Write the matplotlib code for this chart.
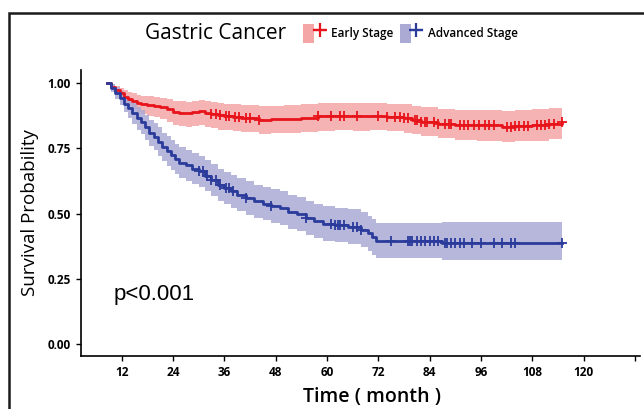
import numpy as np
import matplotlib
matplotlib.use("Agg")
import matplotlib.pyplot as plt
from matplotlib.patches import Patch, Rectangle
from matplotlib.lines import Line2D
from matplotlib.legend_handler import HandlerTuple

# early stage: step times, survival, confidence band
early_t = [8.5, 9.5, 10.5, 11.5, 12.5, 13.5, 14.5, 15.5, 16.5, 18, 19.5, 21, 22.5, 24, 25.5,
           27, 28.5, 30, 31.5, 33, 34.5, 36, 38, 40, 42, 44, 47, 50, 54, 58, 62, 66, 70,
           74, 78, 80, 82, 86, 90, 95, 101, 104, 108, 112, 115]
early_s = [1.0, 0.985, 0.972, 0.96, 0.948, 0.94, 0.932, 0.925, 0.92, 0.916, 0.914, 0.908, 0.9,
           0.89, 0.887, 0.884, 0.888, 0.892, 0.884, 0.88, 0.876, 0.874, 0.87, 0.868, 0.865,
           0.86, 0.862, 0.864, 0.868, 0.872, 0.873, 0.872, 0.875, 0.87, 0.866, 0.86, 0.852,
           0.845, 0.84, 0.838, 0.832, 0.836, 0.84, 0.845, 0.849]
early_lo = [1.0, 0.975, 0.955, 0.94, 0.925, 0.912, 0.9, 0.89, 0.882, 0.875, 0.87, 0.862, 0.852,
            0.84, 0.836, 0.832, 0.836, 0.84, 0.832, 0.828, 0.822, 0.82, 0.816, 0.814, 0.811,
            0.806, 0.808, 0.81, 0.814, 0.818, 0.819, 0.818, 0.82, 0.815, 0.81, 0.804, 0.796,
            0.788, 0.782, 0.78, 0.774, 0.778, 0.78, 0.784, 0.787]
early_hi = [1.0, 0.995, 0.99, 0.98, 0.972, 0.966, 0.96, 0.956, 0.952, 0.95, 0.948, 0.944, 0.938,
            0.932, 0.93, 0.928, 0.932, 0.935, 0.93, 0.926, 0.922, 0.92, 0.918, 0.917, 0.915,
            0.912, 0.914, 0.916, 0.919, 0.922, 0.923, 0.922, 0.925, 0.921, 0.918, 0.913, 0.907,
            0.902, 0.898, 0.897, 0.892, 0.896, 0.9, 0.905, 0.909]
early_cens = [33, 34, 35, 36.5, 37, 38.5, 39.5, 41, 42, 44, 58, 61, 63, 64, 67, 72, 74, 76, 77,
              78, 79, 80.5, 81, 82, 83, 83.5, 85, 86, 87.5, 88.5, 89, 91, 92, 93, 94.5, 95.5,
              97, 98, 99, 102, 103, 104, 105, 106, 107, 109, 110, 111, 112, 113, 115]

# advanced stage
adv_t = [8.5, 9.5, 10.5, 11.5, 12.5, 13.5, 14.5, 15.5, 16.5, 17.5, 18.5, 19.5, 20.5, 21.5,
         22.5, 23.5, 24.5, 25.5, 27, 28.5, 30, 31.5, 33, 34.5, 36, 37.5, 39, 41, 43, 45, 47,
         49, 51, 53, 55, 57, 59, 62, 65, 68, 69.5, 70.5, 71.5, 87, 115]
adv_s = [1.0, 0.98, 0.962, 0.942, 0.921, 0.905, 0.885, 0.865, 0.85, 0.83, 0.81, 0.795, 0.775,
         0.755, 0.74, 0.725, 0.71, 0.695, 0.685, 0.672, 0.662, 0.645, 0.628, 0.61, 0.598,
         0.585, 0.572, 0.56, 0.547, 0.538, 0.528, 0.52, 0.508, 0.498, 0.485, 0.47, 0.462,
         0.456, 0.45, 0.438, 0.425, 0.41, 0.396, 0.388, 0.388]
adv_lo = [1.0, 0.965, 0.94, 0.915, 0.89, 0.868, 0.845, 0.822, 0.805, 0.782, 0.76, 0.743, 0.72,
          0.7, 0.684, 0.668, 0.652, 0.636, 0.626, 0.612, 0.602, 0.585, 0.567, 0.549, 0.536,
          0.522, 0.509, 0.496, 0.483, 0.474, 0.463, 0.455, 0.443, 0.433, 0.42, 0.405, 0.396,
          0.39, 0.384, 0.371, 0.358, 0.343, 0.33, 0.322, 0.322]
adv_hi = [1.0, 0.995, 0.985, 0.97, 0.952, 0.94, 0.925, 0.908, 0.895, 0.878, 0.86, 0.847, 0.83,
          0.81, 0.796, 0.782, 0.768, 0.754, 0.744, 0.732, 0.722, 0.705, 0.689, 0.671, 0.66,
          0.648, 0.635, 0.624, 0.611, 0.602, 0.593, 0.585, 0.573, 0.563, 0.55, 0.535, 0.528,
          0.522, 0.516, 0.505, 0.492, 0.478, 0.465, 0.469, 0.469]
adv_cens = [30, 31, 32, 33, 34, 35, 36.5, 37, 38, 41, 47, 55, 61, 62, 62.5, 63, 64, 66, 67,
            68, 75, 79, 79.5, 80, 81, 82, 83, 84, 85, 86, 87.5, 88, 89, 90, 91, 92, 94, 96,
            99, 101, 103, 104, 115]

xticks = [12, 24, 36, 48, 60, 72, 84, 96, 108, 120, 132]
xticklabels = ["12", "24", "36", "48", "60", "72", "84", "96", "108", "120", ""]
yticks = [0, 0.25, 0.5, 0.75, 1.0]

red = "#e8141c"
blue = "#2a3b9b"
red_fill = "#f4a6a6"
blue_fill = "#abaad5"

fig = plt.figure(figsize=(6.44, 4.09), dpi=100)
ax = fig.add_axes([0.1258, 0.1296, 0.868, 0.6993])


def step_at(t, s, x):
    idx = np.searchsorted(t, x, side="right") - 1
    return np.asarray(s)[np.clip(idx, 0, len(s) - 1)]


groups = [(early_t, early_s, early_lo, early_hi, early_cens, red, red_fill),
          (adv_t, adv_s, adv_lo, adv_hi, adv_cens, blue, blue_fill)]
for t, s, lo, hi, cens, c, fc in groups:
    ax.fill_between(t, lo, hi, step="post", color=fc, alpha=0.85, lw=0)
for t, s, lo, hi, cens, c, fc in groups:
    ax.plot(t, s, drawstyle="steps-post", color=c, lw=2.0)
    ax.plot(cens, step_at(t, s, cens), ls="none", marker="+", color=c, ms=7, mew=1.3)

ax.set_xlim(2.5, 133.2)
ax.set_ylim(-0.045, 1.05)
ax.set_xticks(xticks)
ax.set_xticklabels(xticklabels)
ax.set_yticks(yticks)
ax.set_yticklabels(["0.00", "0.25", "0.50", "0.75", "1.00"])
for lab in ax.get_xticklabels() + ax.get_yticklabels():
    lab.set_fontfamily("Open Sans")
    lab.set_fontweight("bold")
    lab.set_fontsize(8.5)
ax.tick_params(length=3.5, width=1.0, color="black", pad=4)
for side in ["top", "right"]:
    ax.spines[side].set_visible(False)
for side in ["left", "bottom"]:
    ax.spines[side].set_linewidth(1.2)

ax.set_ylabel("Survival Probability", fontsize=13.5, family="Open Sans", fontweight="medium", labelpad=6)
ax.set_xlabel("Time ( month )", fontsize=14, family="Open Sans", fontweight="semibold", labelpad=4)
ax.xaxis.set_label_coords(0.52, -0.11)

ax.text(10, 0.19, "p<0.001", fontsize=16, family="Liberation Sans", ha="left", va="center")

# header legend
fig.text(0.335, 0.918, "Gastric Cancer", fontsize=15, family="Open Sans", fontweight="medium",
         ha="center", va="center")
handles = [(Patch(facecolor=red_fill, edgecolor="none"),
            Line2D([], [], color=red, marker="+", ms=10, mew=1.6, lw=1.6)),
           (Patch(facecolor=blue_fill, edgecolor="none"),
            Line2D([], [], color=blue, marker="+", ms=10, mew=1.6, lw=1.6))]
leg = fig.legend(handles, ["Early Stage", "Advanced Stage"], ncol=2, frameon=False,
                 loc="center left", bbox_to_anchor=(0.462, 0.918),
                 handler_map={tuple: HandlerTuple(ndivide=None, pad=0)},
                 prop={"family": "Open Sans", "weight": "semibold", "size": 8.5},
                 handlelength=1.85, handleheight=2.2, handletextpad=0.5, columnspacing=0.55,
                 borderpad=0)

# outer frame
fig.patches.append(Rectangle((0.014, -0.2), 1.2, 1.168, transform=fig.transFigure,
                             fill=False, edgecolor="#1a1a1a", lw=1.8, clip_on=False))

fig.savefig("out.png", dpi=100)
